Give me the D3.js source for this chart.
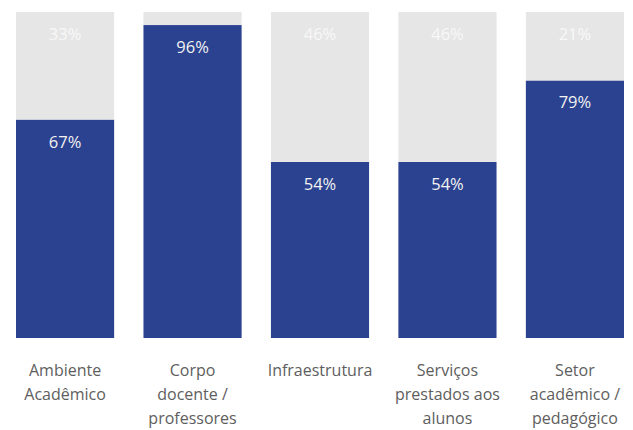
<!DOCTYPE html>
<html>
<head>
<meta charset="utf-8">
<script src="https://cdn.jsdelivr.net/npm/d3@7"></script>
<style>
  html, body { margin: 0; padding: 0; background: #ffffff; }
  svg { display: block; }
</style>
</head>
<body>
<svg id="chart" width="633" height="430"></svg>
<script>
const categories = ["Ambiente Acadêmico", "Corpo docente / professores", "Infraestrutura", "Serviços prestados aos alunos", "Setor acadêmico / pedagógico"];
const tickLabels = [
  ["Ambiente", "Acadêmico"],
  ["Corpo", "docente /", "professores"],
  ["Infraestrutura"],
  ["Serviços", "prestados aos", "alunos"],
  ["Setor", "acadêmico /", "pedagógico"]
];
const positive = [67, 96, 54, 54, 79];
const remainder = [33, 4, 46, 46, 21];

const svg = d3.select("#chart");
const font = "'Open Sans', 'Segoe UI', sans-serif";

const x = d3.scaleBand().domain(categories).range([16, 624]).paddingInner(0.23).paddingOuter(0);
const y = d3.scaleLinear().domain([0, 100]).range([338, 12]);

const data = categories.map((c, i) => ({ cat: c, pos: positive[i], rem: remainder[i], lines: tickLabels[i] }));

const stack = d3.stack().keys(["pos", "rem"])(data);
const colors = { pos: "#2b4290", rem: "#e6e6e6" };
const labelColors = { pos: "#f2f2f2", rem: "#f8f8f8" };

stack.forEach(layer => {
  const key = layer.key;
  const g = svg.append("g");
  g.selectAll("rect").data(layer).enter().append("rect")
    .attr("x", d => x(d.data.cat))
    .attr("width", x.bandwidth())
    .attr("y", d => y(d[1]))
    .attr("height", d => y(d[0]) - y(d[1]))
    .attr("fill", colors[key]);
  g.selectAll("text").data(layer.filter(d => d.data[key] >= 10)).enter().append("text")
    .attr("x", d => x(d.data.cat) + x.bandwidth() / 2)
    .attr("y", d => y(d[1]) + 28)
    .attr("text-anchor", "middle")
    .attr("font-family", font)
    .attr("font-size", "16.5px")
    .attr("fill", labelColors[key])
    .text(d => d.data[key] + "%");
});

const axis = d3.axisBottom(x).tickSize(0).tickPadding(0).tickFormat("");
const ag = svg.append("g").attr("transform", "translate(0,338)").call(axis);
ag.select(".domain").remove();
ag.selectAll(".tick").each(function(d, i) {
  const t = d3.select(this).append("text")
    .attr("text-anchor", "middle")
    .attr("font-family", font)
    .attr("font-size", "16px")
    .attr("fill", "#5e5e5e");
  tickLabels[i].forEach((line, j) => {
    t.append("tspan").attr("x", 0).attr("y", 38 + j * 24).text(line);
  });
});
</script>
</body>
</html>
